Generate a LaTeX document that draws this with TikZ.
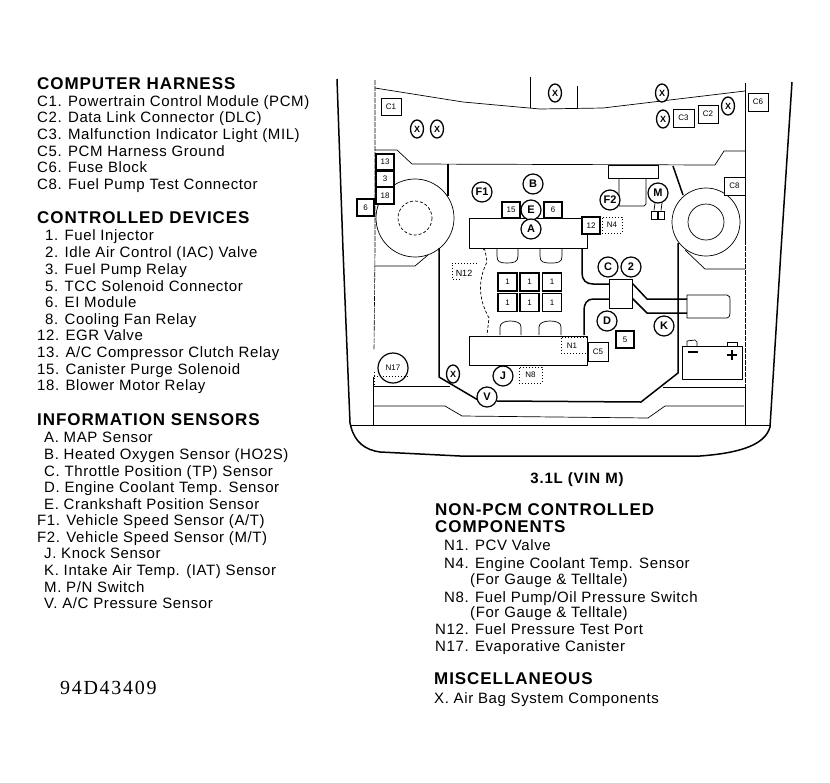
\documentclass[tikz,border=0pt]{standalone}
\usepackage{fontspec}
\setmainfont{Liberation Sans}
\newfontfamily\legendfont[LetterSpace=4]{Liberation Sans}
\newfontfamily\headfont[LetterSpace=5.5]{Liberation Sans}
\newfontfamily\codefont[LetterSpace=8.5]{Liberation Serif}
\newcommand{\lab}[4]{\node[legend] (#1) at (#2,#3+5) {#4};}
\newcommand{\hdr}[4]{\node[heading] (#1) at (#2,#3+5.5) {#4};}
\tikzset{
  legend/.style={anchor=base west,inner sep=0pt,font=\legendfont\fontsize{15}{15}\selectfont},
  heading/.style={anchor=base west,inner sep=0pt,font=\headfont\bfseries\fontsize{17}{17}\selectfont},
  thinl/.style={line width=0.7pt,line join=round},
  thickl/.style={line width=1.5pt,line join=round},
  dashl/.style={line width=0.6pt,dash pattern=on 5pt off 1pt},
  dotl/.style={line width=0.7pt,dash pattern=on 1pt off 2pt},
  circ/.style={circle,draw,line width=1.2pt,minimum size=20pt,inner sep=0pt,fill=white,font=\bfseries\fontsize{11}{11}\selectfont},
  xoval/.style={ellipse,draw,line width=1.3pt,minimum width=13pt,minimum height=18pt,inner sep=0pt,fill=white,font=\bfseries\fontsize{9}{9}\selectfont},
  sbox/.style={draw,line width=0.7pt,fill=white,inner sep=0pt,font=\fontsize{8}{8}\selectfont},
  tbox/.style={draw,line width=1.5pt,fill=white,inner sep=0pt,font=\fontsize{8}{8}\selectfont},
  dbox/.style={draw,dotl,inner sep=0pt,font=\fontsize{8}{8}\selectfont},
}
\usetikzlibrary{shapes.geometric}
\begin{document}
\begin{tikzpicture}[x=1pt,y=-1pt]
\useasboundingbox[fill=white] (0,0) rectangle (830,782);

% body outline
\draw[thickl] (337,79) -- (343,250) -- (350,423) -- (351,427) .. controls (355,442) and (365,450) .. (380,452) -- (460,456) -- (700,456) .. controls (740,453) and (765,445) .. (770,427) -- (781,250) -- (792,82);
\draw[thinl] (351,425) -- (770,425);
\draw[dashl] (375,80) -- (375,250) -- (374,350);
\draw[thinl] (373,377) -- (373,425);
\draw[thinl] (745,83) -- (745,240);
\draw[dashl] (745,240) -- (745,387);
\draw[thinl] (745,387) -- (745,425);

% cowl
\draw[thinl] (375,88) -- (463,102) -- (540,109) -- (603,108) -- (745,91);
\draw[thinl] (530,77) -- (530,108);
\draw[thinl] (577,86) -- (577,109);
\draw[thinl] (375,150) -- (397,150) -- (412,164) -- (715,165) -- (724,151) -- (745,151);

% engine bay divider
\draw[thickl] (448,164) -- (448,196);
\draw[thickl] (439,248) -- (439,377) -- (478,400);
\draw[thickl] (497,401) -- (641,402) -- (678,373) -- (678,243);
\draw[thickl] (673,166) -- (683,195);

% strut towers
\draw[thinl] (415,218) circle (39);
\draw[thinl,densely dashed] (415,218) circle (17);
\draw[thinl] (706,222) circle (34);
\draw[thinl] (706,222) circle (18);
\draw[thinl] (374,266) -- (415,266) -- (428,255);
\draw[thinl] (685,250) -- (705,269) -- (745,269);

% front structure
\draw[thinl] (374,386) -- (450,386);
\draw[thinl] (374,406) -- (445,406) -- (462,416) -- (648,418) -- (665,406) -- (744,406);
\draw[thinl] (663,387) -- (745,387);

% engine blocks
\draw[thinl] (582,218) -- (469,218) -- (469,248) -- (587,248) -- (587,234);
\draw[thinl] (469,336) rectangle (587,365);

% intake runners
\draw[thinl,densely dashed] (483,249) -- (485,250) -- (487,262) .. controls (478,280) and (478,298) .. (489,318) -- (487,335);
\draw[thinl] (497,248) -- (497,256) .. controls (497,262) and (500,263) .. (507,263) .. controls (514,263) and (518,262) .. (518,256) -- (518,248);
\draw[thinl] (540,248) -- (540,256) .. controls (540,262) and (543,263) .. (551,263) .. controls (559,263) and (562,262) .. (562,256) -- (562,248);
\draw[thinl] (500,335) -- (500,327) .. controls (500,323) and (505,321) .. (510,321) .. controls (517,321) and (521,323) .. (521,327) -- (521,335);
\draw[thinl] (539,335) -- (539,327) .. controls (539,323) and (544,321) .. (550,321) .. controls (557,321) and (561,323) .. (561,327) -- (561,335);

% harness
\draw[thickl] (582,248) -- (582,273) .. controls (582,280) and (586,284) .. (593,284) -- (610,284);
\draw[thickl] (610,299) -- (593,299) .. controls (587,299) and (584,304) .. (584,310) -- (584,335);
\draw[thickl] (632,283) -- (647,299) -- (687,299);
\draw[thickl] (632,298) -- (647,313) -- (687,313);
\node[sbox,minimum width=23pt,minimum height=29pt] (hub) at (620.5,293.5) {};
\draw[thinl] (687,295) -- (727,295) .. controls (730,295) and (730,298) .. (730,300) -- (730,313) .. controls (730,316) and (729,318) .. (727,318) -- (687,318) -- cycle;

% battery
\draw[thinl] (682,346) rectangle (742,379);
\draw[thinl] (687,346) -- (687,341) -- (695,340) -- (697,342) -- (697,346);
\draw[thinl] (727,346) -- (727,342) -- (737,342) -- (737,346);
\draw[line width=1.2pt] (688,352) -- (698,352);
\draw[line width=1.4pt] (727,355) -- (737,355) (732,350) -- (732,360);

% fuel rail grid
\foreach \n/\cx/\cy in {g1/507.5/282,g2/529.5/282,g3/552/282,g4/507.5/302.5,g5/529.5/302.5,g6/552/302.5}
  \node[tbox,minimum width=19pt,minimum height=18pt] (\n) at (\cx,\cy) {1};

% small boxes
\node[sbox,minimum width=20pt,minimum height=17pt] (c1) at (391,106.5) {C1};
\node[sbox,minimum width=21pt,minimum height=18pt] (c3) at (683.5,118) {C3};
\node[sbox,minimum width=20pt,minimum height=18pt] (c2) at (708,114) {C2};
\node[sbox,minimum width=20pt,minimum height=18pt] (c6) at (758,102) {C6};
\node[sbox,line width=1pt,minimum width=21pt,minimum height=18pt] (c8) at (734.5,186) {C8};
\node[sbox,minimum width=20pt,minimum height=19pt] (c5) at (598,351.5) {C5};
\node[tbox,minimum width=18pt,minimum height=16pt] (r13) at (385,162) {13};
\node[tbox,minimum width=18pt,minimum height=16pt] (r3) at (385,179) {3};
\node[tbox,minimum width=18pt,minimum height=17pt] (r18) at (385,195.5) {18};
\node[tbox,minimum width=17pt,minimum height=17pt] (r6) at (365.5,207.5) {6};
\node[tbox,minimum width=18pt,minimum height=16pt] (r15) at (511,210) {15};
\node[tbox,minimum width=18pt,minimum height=16pt] (r6b) at (553,210) {6};
\node[tbox,minimum width=18pt,minimum height=17pt] (r12) at (591,225.5) {12};
\node[tbox,minimum width=18pt,minimum height=17pt] (r5) at (625,339.5) {5};

% dotted boxes
\node[dbox,minimum width=20pt,minimum height=16pt] (n4) at (612,225) {N4};
\node[dbox,minimum width=23pt,minimum height=16pt] (n8) at (530.5,375) {N8};
\draw[dotl] (587,337) -- (561,337) -- (561,353) -- (587,353);
\node[inner sep=0pt,font=\fontsize{8}{8}\selectfont] (n1) at (572,346) {N1};
\draw[dotl] (477,263) -- (452,263) -- (452,279) -- (460,279);
\node[inner sep=0pt,font=\fontsize{9}{9}\selectfont] (n12) at (464,273) {N12};

% pump module
\draw[thinl] (608,165) rectangle (658,178);
\draw[thinl] (619,178) -- (619,206) -- (644,206) -- (646,204) -- (646,178);

% circled labels
\node[circ] (f1) at (482,192) {F1};
\node[circ] (b) at (533,184) {B};
\node[circ] (e) at (531,210) {E};
\node[circ] (a) at (531,229) {A};
\node[circ] (f2) at (610,200) {F2};
\node[circ] (m) at (658,193) {M};
\node[circ] (c) at (608,267) {C};
\node[circ] (two) at (631,267) {2};
\node[circ] (d) at (607,321) {D};
\node[circ] (k) at (664,326) {K};
\node[circ] (j) at (503,376) {J};
\node[circ] (v) at (487,397) {V};
\node[circ,minimum size=30pt,font=\fontsize{8}{8}\selectfont] (n17) at (393,368) {N17};
\draw[dotl] (374,376) -- (408,376);
\draw[dotl] (374,372) -- (374,386);

% M switch
\node[sbox,line width=1pt,minimum width=6pt,minimum height=8pt] (ms1) at (654,215) {};
\node[sbox,line width=1pt,minimum width=6pt,minimum height=8pt] (ms2) at (661,215) {};
\draw[thinl] (m.south) ++(-3,-0.5) -- (ms1.north);
\draw[thinl] (m.south) ++(4,-0.5) -- (ms2.north);

% X ovals
\node[xoval] (x1) at (555,93) {X};
\node[xoval] (x2) at (662,93) {X};
\node[xoval] (x3) at (663,119) {X};
\node[xoval] (x4) at (728,106) {X};
\node[xoval] (x5) at (417,129) {X};
\node[xoval] (x6) at (437,129) {X};
\node[xoval] (x7) at (453,374) {X};

% left legend
\hdr{h1}{37}{84}{COMPUTER HARNESS}
\lab{l1}{37}{101}{C1. Powertrain Control Module (PCM)}
\lab{l2}{37}{117}{C2. Data Link Connector (DLC)}
\lab{l3}{37}{134}{C3. Malfunction Indicator Light (MIL)}
\lab{l4}{37}{151}{C5. PCM Harness Ground}
\lab{l5}{37}{167}{C6. Fuse Block}
\lab{l6}{37}{184}{C8. Fuel Pump Test Connector}
\hdr{h2}{37}{218}{CONTROLLED DEVICES}
\lab{m1}{45}{235}{1. Fuel Injector}
\lab{m2}{45}{252}{2. Idle Air Control (IAC) Valve}
\lab{m3}{45}{269}{3. Fuel Pump Relay}
\lab{m4}{45}{286}{5. TCC Solenoid Connector}
\lab{m5}{45}{302}{6. EI Module}
\lab{m6}{45}{319}{8. Cooling Fan Relay}
\lab{m7}{37}{335}{12. EGR Valve}
\lab{m8}{37}{352}{13. A/C Compressor Clutch Relay}
\lab{m9}{37}{369}{15. Canister Purge Solenoid}
\lab{m10}{37}{385}{18. Blower Motor Relay}
\hdr{h3}{37}{420}{INFORMATION SENSORS}
\lab{s1}{44}{437}{A. MAP Sensor}
\lab{s2}{44}{454}{B. Heated Oxygen Sensor (HO2S)}
\lab{s3}{44}{471}{C. Throttle Position (TP) Sensor}
\lab{s4}{44}{487}{D. Engine Coolant Temp. Sensor}
\lab{s5}{44}{504}{E. Crankshaft Position Sensor}
\lab{s6}{37}{520}{F1. Vehicle Speed Sensor (A/T)}
\lab{s7}{37}{537}{F2. Vehicle Speed Sensor (M/T)}
\lab{s8}{44}{553}{J. Knock Sensor}
\lab{s9}{44}{570}{K. Intake Air Temp. (IAT) Sensor}
\lab{s10}{44}{587}{M. P/N Switch}
\lab{s11}{44}{603}{V. A/C Pressure Sensor}
\node[anchor=base west,inner sep=0pt,font=\codefont\fontsize{20}{20}\selectfont] (code) at (60,694) {94D43409};

% right legend
\node[anchor=base,inner sep=0pt,font=\headfont\bfseries\fontsize{15}{15}\selectfont] (eng) at (577,483) {3.1L (VIN M)};
\hdr{h4}{435}{510}{NON-PCM CONTROLLED}
\hdr{h5}{435}{527}{COMPONENTS}
\lab{r1}{444}{545}{N1. PCV Valve}
\lab{r2}{444}{563}{N4. Engine Coolant Temp. Sensor}
\lab{r3}{470}{579}{(For Gauge \& Telltale)}
\lab{r4}{444}{597}{N8. Fuel Pump/Oil Pressure Switch}
\lab{r5}{470}{612}{(For Gauge \& Telltale)}
\lab{r6}{435}{629}{N12. Fuel Pressure Test Port}
\lab{r7}{435}{646}{N17. Evaporative Canister}
\hdr{h6}{434}{679}{MISCELLANEOUS}
\lab{r8}{434}{698}{X. Air Bag System Components}
\end{tikzpicture}
\end{document}
